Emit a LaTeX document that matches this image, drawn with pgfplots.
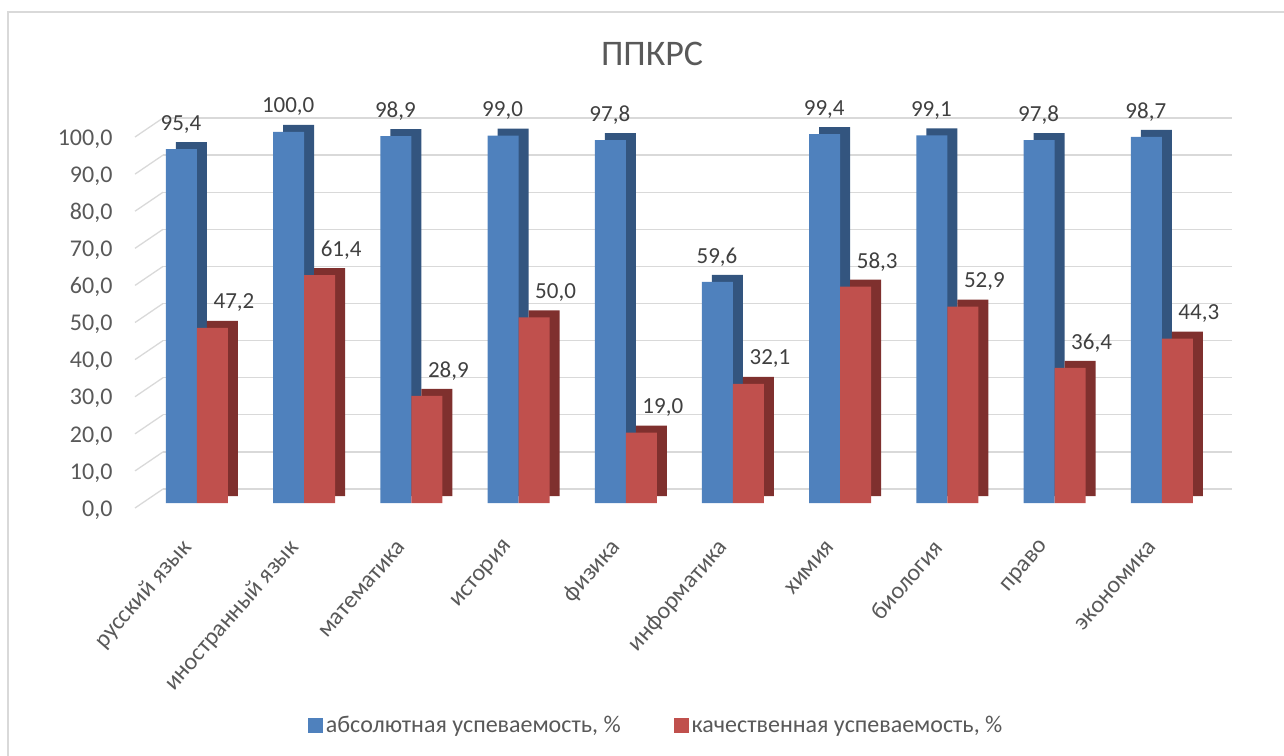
\documentclass[border=0pt]{standalone}
\usepackage{fontspec}
\setmainfont{Carlito}
\usepackage{pgfplots}
\pgfplotsset{compat=1.18}
\definecolor{cblue}{HTML}{4F81BD}
\definecolor{cbluedark}{HTML}{33557F}
\definecolor{cred}{HTML}{C0504D}
\definecolor{creddark}{HTML}{7F302E}
\definecolor{txt}{HTML}{595959}
\definecolor{lbl}{HTML}{404040}
\definecolor{gridc}{HTML}{D9D9D9}
\begin{document}
\begin{tikzpicture}[x=1pt,y=1pt]
\useasboundingbox (0,0) rectangle (1284,755);
\draw[color=gridc, line width=1.2pt] (8,-20) rectangle (1300,743);
\begin{axis}[
  at={(163pt,252pt)}, anchor=south west,
  scale only axis, width=1069pt, height=371pt,
  xmin=0.683, xmax=10.655, ymin=0, ymax=100,
  clip=false,
  axis line style={draw=none},
  major tick length=0pt,
  ytick={0,10,...,100},
  xtick={1,...,10},
  xticklabels={русский язык, иностранный язык, математика, история, физика, информатика, химия, биология, право, экономика},
  x tick label style={xshift=-7pt, yshift=-38pt, rotate=49, anchor=east, font=\fontsize{24}{28}\selectfont, text=txt},
  y tick label style={xshift=-47pt, yshift=-7pt, font=\fontsize{24}{28}\selectfont, text=txt},
  /pgf/number format/.cd, fixed, fixed zerofill, precision=1, use comma, assume math mode=true,
  /pgfplots/.cd,
  ymajorgrids,
  major grid style={gridc, line width=1.3pt, yshift=14pt},
  title={ППКРС},
  title style={at={(0.4575,1.195)}, anchor=center, font=\fontsize{36}{40}\selectfont, text=txt},
  legend style={at={(0.4617,-0.5997)}, anchor=center, draw=none, legend columns=2,
    font=\fontsize{24}{28}\selectfont, text=txt, nodes={inner xsep=3pt},
    /tikz/every even column/.append style={column sep=50pt}},
  legend image code/.code={\fill[#1] (0pt,-7.5pt) rectangle (15pt,7.5pt);},
]
% diagonal side lines of the grid (decoration)
\draw[gridc, line width=1.3pt] (axis cs:0.422,-1.35) -- (axis cs:0.683,3.77);
\draw[gridc, line width=1.3pt] (axis cs:0.422,8.65) -- (axis cs:0.683,13.77);
\draw[gridc, line width=1.3pt] (axis cs:0.422,18.65) -- (axis cs:0.683,23.77);
\draw[gridc, line width=1.3pt] (axis cs:0.422,28.65) -- (axis cs:0.683,33.77);
\draw[gridc, line width=1.3pt] (axis cs:0.422,38.65) -- (axis cs:0.683,43.77);
\draw[gridc, line width=1.3pt] (axis cs:0.422,48.65) -- (axis cs:0.683,53.77);
\draw[gridc, line width=1.3pt] (axis cs:0.422,58.65) -- (axis cs:0.683,63.77);
\draw[gridc, line width=1.3pt] (axis cs:0.422,68.65) -- (axis cs:0.683,73.77);
\draw[gridc, line width=1.3pt] (axis cs:0.422,78.65) -- (axis cs:0.683,83.77);
\draw[gridc, line width=1.3pt] (axis cs:0.422,88.65) -- (axis cs:0.683,93.77);
\draw[gridc, line width=1.3pt] (axis cs:0.422,98.65) -- (axis cs:0.683,103.77);
% blue side
\addplot[ybar, bar width=31pt, bar shift=-15.5pt, fill=cbluedark, draw=none, xshift=10pt, yshift=7pt, forget plot] coordinates {
(1,95.4) (2,100.0) (3,98.9) (4,99.0) (5,97.8) (6,59.6) (7,99.4) (8,99.1) (9,97.8) (10,98.7)};
\addplot[ybar, bar width=31pt, bar shift=-15.5pt, fill=cblue, draw=none,
  nodes near coords, nodes near coords style={anchor=center, xshift=-16pt, yshift=25pt, font=\fontsize{23}{27}\selectfont, text=lbl}] coordinates {
(1,95.4) (2,100.0) (3,98.9) (4,99.0) (5,97.8) (6,59.6) (7,99.4) (8,99.1) (9,97.8) (10,98.7)};
\addlegendentry{абсолютная успеваемость, \%}
% red side
\addplot[ybar, bar width=31pt, bar shift=15.5pt, fill=creddark, draw=none, xshift=10pt, yshift=7pt, forget plot] coordinates {
(1,47.2) (2,61.4) (3,28.9) (4,50.0) (5,19.0) (6,32.1) (7,58.3) (8,52.9) (9,36.4) (10,44.3)};
\addplot[ybar, bar width=31pt, bar shift=15.5pt, fill=cred, draw=none,
  nodes near coords, nodes near coords style={anchor=center, xshift=37pt, yshift=25pt, font=\fontsize{23}{27}\selectfont, text=lbl}] coordinates {
(1,47.2) (2,61.4) (3,28.9) (4,50.0) (5,19.0) (6,32.1) (7,58.3) (8,52.9) (9,36.4) (10,44.3)};
\addlegendentry{качественная успеваемость, \%}
\end{axis}
\end{tikzpicture}
\end{document}
